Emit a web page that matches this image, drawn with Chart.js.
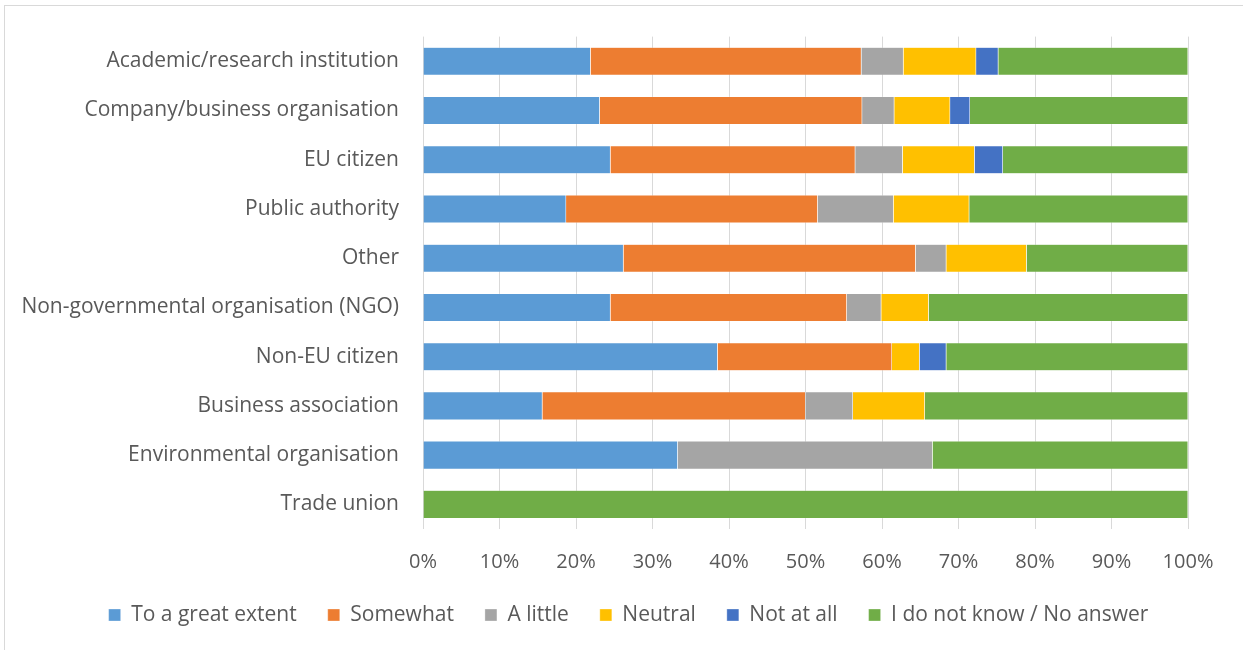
<!DOCTYPE html>
<html>
<head>
<meta charset="utf-8">
<script src="https://cdn.jsdelivr.net/npm/chart.js@4.4.1/dist/chart.umd.min.js"></script>
<style>
  html, body { margin: 0; padding: 0; background: #fff; }
  #frame {
    position: absolute; left: 4px; top: 5px; width: 1250px; height: 660px;
    border: 1px solid #d9d9d9; box-sizing: border-box;
  }
  #wrap { position: absolute; left: 0; top: 0; width: 1243px; height: 650px; }
</style>
</head>
<body>
<div id="frame"></div>
<div id="wrap"><canvas id="chart"></canvas></div>
<script>
// Respondent types (top to bottom)
const categories = [
  "Academic/research institution",
  "Company/business organisation",
  "EU citizen",
  "Public authority",
  "Other",
  "Non-governmental organisation (NGO)",
  "Non-EU citizen",
  "Business association",
  "Environmental organisation",
  "Trade union",
];

// Share of answers per type, in percent
const greatExtent = [21.9, 23.1, 24.5, 18.7, 26.2, 24.5, 38.5, 15.6, 33.3, 0];
const somewhat    = [35.4, 34.3, 32.0, 32.9, 38.2, 30.9, 22.8, 34.4, 0, 0];
const aLittle     = [5.5, 4.2, 6.2, 9.9, 4.0, 4.5, 0, 6.2, 33.3, 0];
const neutral     = [9.5, 7.3, 9.4, 9.9, 10.5, 6.2, 3.6, 9.4, 0, 0];
const notAtAll    = [2.9, 2.6, 3.7, 0, 0, 0, 3.5, 0, 0, 0];
const noAnswer    = [24.8, 28.5, 24.2, 28.6, 21.1, 33.9, 31.6, 34.4, 33.4, 100];

const xTicks = [0, 10, 20, 30, 40, 50, 60, 70, 80, 90, 100];

const textColor = "#595959";
const fontFamily = "'Open Sans', 'Liberation Sans', sans-serif";

function series(label, data, color) {
  return {
    label: label,
    data: data,
    backgroundColor: color,
    borderColor: "rgba(255,255,255,0.6)",
    borderWidth: 0.5,
    barPercentage: 0.57,
    categoryPercentage: 1.0,
  };
}

// The legend row is centred a bit right of the canvas middle, like the original
const shiftLegend = {
  id: "shiftLegend",
  afterLayout(chart) {
    chart.legend.left += 34.5;
    chart.legend.right += 34.5;
  },
};

const ctx = document.getElementById("chart").getContext("2d");

new Chart(ctx, {
  type: "bar",
  data: {
    labels: categories,
    datasets: [
      series("To a great extent", greatExtent, "#5B9BD5"),
      series("Somewhat", somewhat, "#ED7D31"),
      series("A little", aLittle, "#A5A5A5"),
      series("Neutral", neutral, "#FFC000"),
      series("Not at all", notAtAll, "#4472C4"),
      series("I do not know / No answer", noAnswer, "#70AD47"),
    ],
  },
  plugins: [shiftLegend],
  options: {
    indexAxis: "y",
    responsive: true,
    maintainAspectRatio: false,
    animation: false,
    layout: {
      padding: { left: 0, right: 55, top: 35, bottom: 14.5 },
    },
    plugins: {
      tooltip: { enabled: false },
      legend: {
        position: "bottom",
        labels: {
          color: textColor,
          font: { family: fontFamily, size: 21 },
          boxWidth: 12,
          boxHeight: 12,
          padding: 31,
        },
      },
    },
    scales: {
      x: {
        stacked: true,
        min: 0,
        max: 100,
        afterBuildTicks: (axis) => {
          axis.ticks = xTicks.map((v) => ({ value: v }));
        },
        afterFit: (axis) => {
          axis.height = 44.5;
        },
        ticks: {
          color: textColor,
          font: { family: fontFamily, size: 20 },
          callback: (value) => value + "%",
          padding: 21,
        },
        grid: {
          color: "#D9D9D9",
          lineWidth: 1,
          drawTicks: false,
        },
        border: { display: false },
      },
      y: {
        stacked: true,
        afterFit: (axis) => {
          axis.width = 423;
        },
        ticks: {
          color: textColor,
          font: { family: fontFamily, size: 21 },
          padding: 24,
        },
        grid: { display: false, drawTicks: false },
        border: { display: false },
      },
    },
  },
});
</script>
</body>
</html>
